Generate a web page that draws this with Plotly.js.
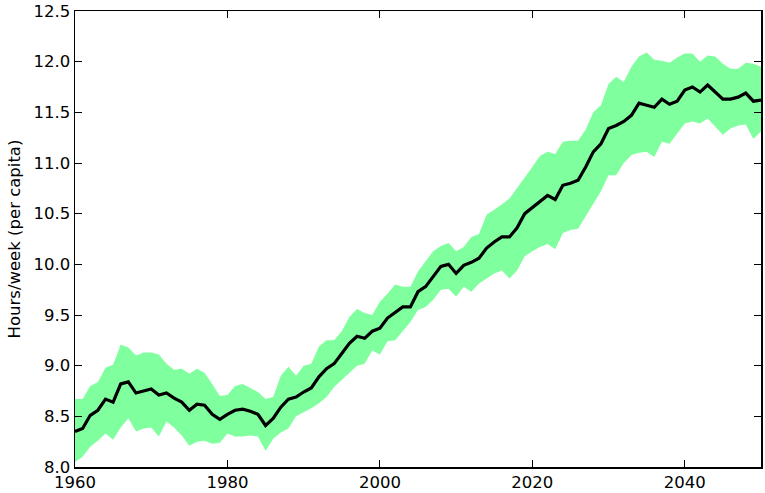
<!DOCTYPE html>
<html>
<head>
<meta charset="utf-8">
<script src="https://cdn.plot.ly/plotly-3.0.1.min.js"></script>
<style>
  html, body { margin:0; padding:0; background:#fff; }
  #chart { width:765px; height:493px; }
</style>
</head>
<body>
<div id="chart"></div>
<script>
// yearly hours/week per capita: mean with an uncertainty band
const years = [];
for (let y = 1960; y <= 2050; y++) years.push(y);

const meanVals = [
  8.35, 8.38, 8.51, 8.56, 8.67, 8.64, 8.82, 8.84, 8.73, 8.75,
  8.77, 8.71, 8.73, 8.68, 8.64, 8.56, 8.62, 8.61, 8.52, 8.47,
  8.52, 8.56, 8.57, 8.55, 8.52, 8.41, 8.48, 8.59, 8.67, 8.69,
  8.74, 8.78, 8.89, 8.97, 9.02, 9.12, 9.22, 9.29, 9.27, 9.34,
  9.37, 9.47, 9.53, 9.58, 9.58, 9.73, 9.78, 9.88, 9.98, 10.00,
  9.91, 9.99, 10.02, 10.06, 10.16, 10.22, 10.27, 10.27, 10.36, 10.50,
  10.56, 10.62, 10.68, 10.64, 10.78, 10.80, 10.83, 10.96, 11.11, 11.19,
  11.34, 11.37, 11.41, 11.47, 11.59, 11.57, 11.55, 11.63, 11.58, 11.61,
  11.72, 11.75, 11.70, 11.77, 11.70, 11.63, 11.63, 11.65, 11.69, 11.61,
  11.62
];

const upperVals = [
  8.67, 8.67, 8.80, 8.84, 8.98, 9.01, 9.21, 9.18, 9.10, 9.13,
  9.13, 9.11, 9.02, 8.96, 8.97, 8.92, 8.97, 8.93, 8.82, 8.70,
  8.71, 8.80, 8.82, 8.78, 8.74, 8.67, 8.69, 8.90, 8.99, 8.90,
  9.00, 9.02, 9.19, 9.25, 9.25, 9.34, 9.48, 9.56, 9.52, 9.50,
  9.63, 9.71, 9.80, 9.78, 9.78, 9.93, 10.03, 10.13, 10.18, 10.21,
  10.13, 10.17, 10.27, 10.30, 10.49, 10.54, 10.59, 10.65, 10.75, 10.86,
  10.96, 11.07, 11.11, 11.09, 11.21, 11.22, 11.22, 11.33, 11.50, 11.57,
  11.78, 11.85, 11.80, 11.95, 12.05, 12.09, 12.02, 12.01, 11.99, 12.04,
  12.08, 12.08, 12.00, 12.06, 12.05, 11.98, 11.93, 11.93, 11.99, 11.98,
  11.95
];

const lowerVals = [
  8.05, 8.10, 8.20, 8.26, 8.33, 8.27, 8.39, 8.48, 8.35, 8.38,
  8.39, 8.30, 8.45, 8.39, 8.31, 8.21, 8.25, 8.26, 8.23, 8.24,
  8.33, 8.30, 8.30, 8.31, 8.30, 8.16, 8.28, 8.34, 8.38, 8.50,
  8.54, 8.58, 8.63, 8.69, 8.79, 8.86, 8.93, 9.00, 9.02, 9.15,
  9.11, 9.24, 9.25, 9.34, 9.43, 9.55, 9.58, 9.65, 9.75, 9.76,
  9.68, 9.78, 9.73, 9.81, 9.86, 9.91, 9.94, 9.86, 9.94, 10.08,
  10.13, 10.17, 10.20, 10.15, 10.31, 10.34, 10.35, 10.47, 10.59, 10.72,
  10.88, 10.88, 11.00, 11.08, 11.10, 11.11, 11.06, 11.21, 11.19, 11.29,
  11.39, 11.41, 11.39, 11.44, 11.36, 11.28, 11.34, 11.37, 11.38, 11.24,
  11.31
];

const xTicks = [1960, 1980, 2000, 2020, 2040];
const yTicks = [8.0, 8.5, 9.0, 9.5, 10.0, 10.5, 11.0, 11.5, 12.0, 12.5];

const font = { family:'DejaVu Sans, sans-serif', size:16.5, color:'#000' };

const traces = [
  { type:'scatter', mode:'lines', x:years, y:lowerVals, line:{width:0, color:'rgba(0,0,0,0)'},
    showlegend:false, hoverinfo:'skip' },
  { type:'scatter', mode:'lines', x:years, y:upperVals, line:{width:0, color:'rgba(0,0,0,0)'},
    fill:'tonexty', fillcolor:'rgb(128,255,158)', showlegend:false, hoverinfo:'skip' },
  { type:'scatter', mode:'lines', x:years, y:meanVals, line:{width:3.2, color:'#000'},
    showlegend:false }
];

const axisCommon = {
  showgrid:false, zeroline:false, showline:true, linecolor:'#000', linewidth:1.5,
  mirror:'ticks', ticks:'inside', ticklen:7, tickwidth:1, tickcolor:'#000',
  tickfont:font
};

const layout = {
  width:765, height:493,
  margin:{l:75, r:4, t:11, b:26},
  paper_bgcolor:'#fff', plot_bgcolor:'#fff',
  font:font,
  showlegend:false,
  xaxis:Object.assign({}, axisCommon, {
    range:[1960, 2050], tickmode:'array', tickvals:xTicks,
    ticktext:xTicks.map(String)
  }),
  yaxis:Object.assign({}, axisCommon, {
    range:[8, 12.5], tickmode:'array', tickvals:yTicks,
    ticktext:yTicks.map(v => v.toFixed(1)),
    title:{text:'Hours/week (per capita)', font:font, standoff:8}
  })
};

Plotly.newPlot('chart', traces, layout, {displayModeBar:false, staticPlot:true});
</script>
</body>
</html>
